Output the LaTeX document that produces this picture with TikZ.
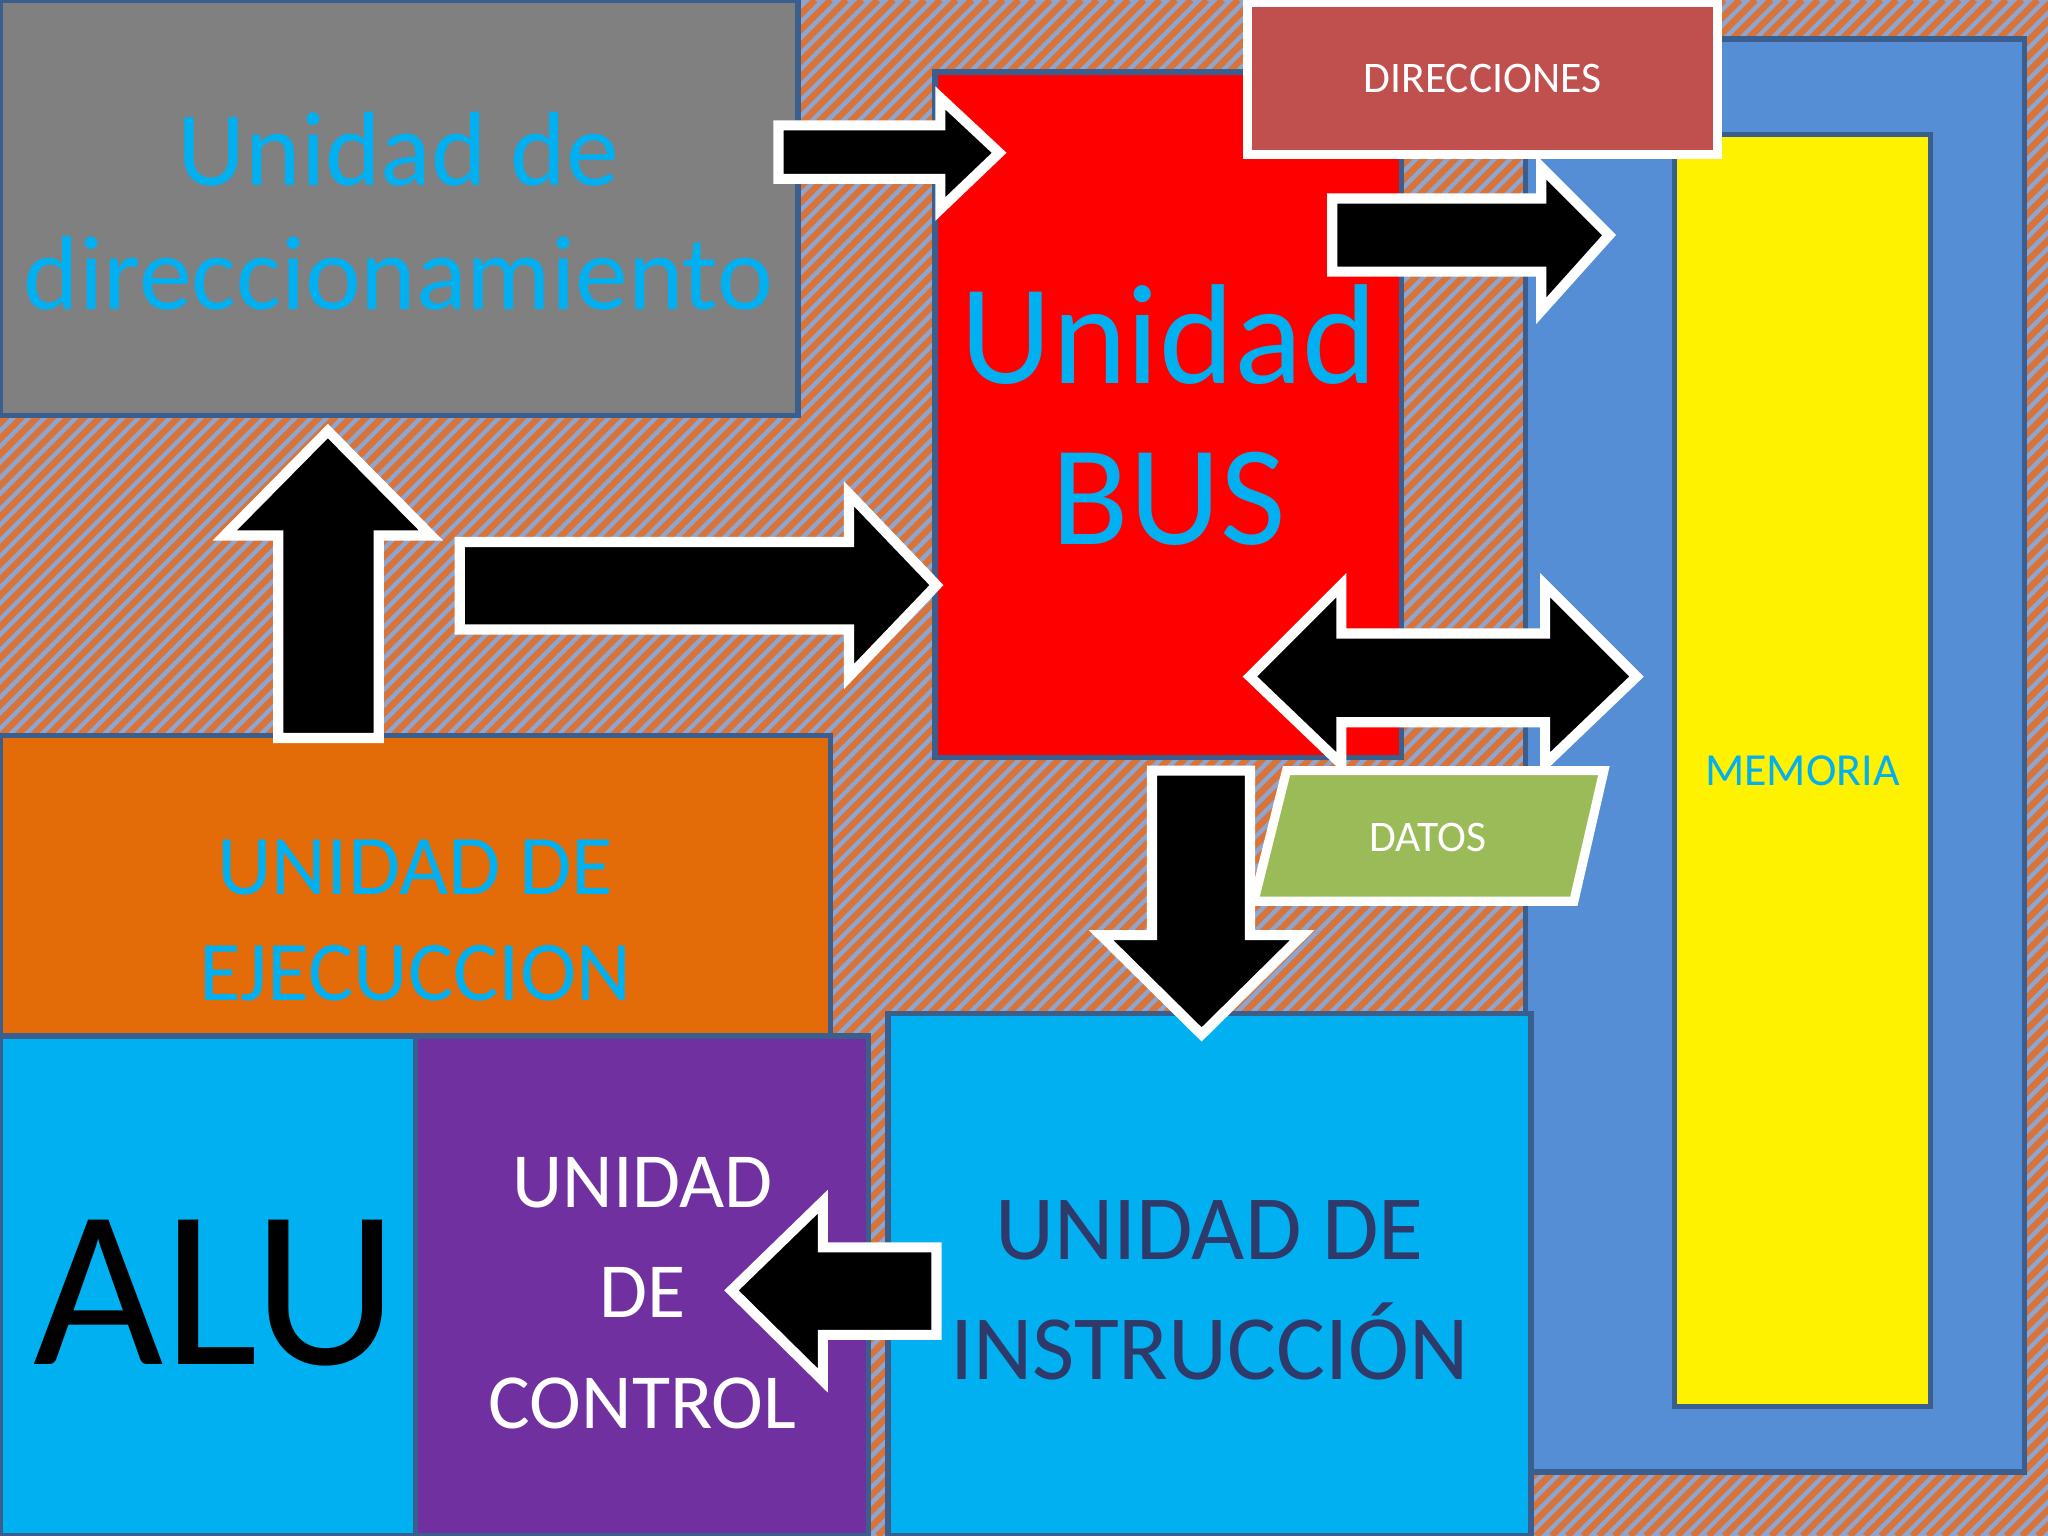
\documentclass[tikz,border=0pt]{standalone}
\usepackage{fontspec}
\setmainfont{Carlito}
\definecolor{bgblue}{HTML}{8EA6CF}
\definecolor{bgor}{HTML}{D8743A}
\definecolor{cyanT}{HTML}{00B0F0}
\definecolor{memblue}{HTML}{558ED5}
\definecolor{dirred}{HTML}{C0504D}
\definecolor{orangeU}{HTML}{E36C09}
\definecolor{purpleU}{HTML}{7030A0}
\definecolor{datosg}{HTML}{9BBB59}
\definecolor{edgeb}{HTML}{3A5F8F}
\definecolor{instT}{HTML}{303A6A}
\tikzset{
 box/.style={draw=edgeb,line width=1.2pt},
 wbox/.style={draw=white,line width=2pt},
 barrow/.style={fill=black,draw=white,line width=2.2pt,line join=miter},
}
\begin{document}
\begin{tikzpicture}[x=0.01cm,y=-0.01cm]
\useasboundingbox (0,0) rectangle (1568,1176);
\fill[bgblue] (0,0) rectangle (1568,1176);
\begin{scope}
\clip (0,0) rectangle (1568,1176);
\foreach \i in {-1200,-1188,...,1580} \draw[bgor,line width=1.4pt] (\i,1176) -- (\i+1176,0);
\end{scope}
% memory
\filldraw[box,fill=memblue] (1168,30) rectangle (1550,1127);
\filldraw[box,fill=yellow] (1282,103) rectangle (1478,1077);
\node[text=cyanT,font=\fontsize{10}{12}\selectfont] (mem) at (1380,590) {MEMORIA};
% gray
\filldraw[box,fill=gray] (0,0) rectangle (611,318);
\node[text=cyanT,align=center,font=\fontsize{23}{27}\selectfont] (dir) at (305,162) {Unidad de\\direccionamiento};
% red bus
\filldraw[box,fill=red] (716,55) rectangle (1073,580);
\node[text=cyanT,align=center,font=\fontsize{31}{35}\selectfont] (bus) at (895,318) {Unidad\\BUS};
% direcciones
\filldraw[wbox,fill=dirred] (955,2) rectangle (1315,118);
\node[text=white,font=\fontsize{9.5}{11}\selectfont] (dirs) at (1135,60) {DIRECCIONES};
% orange
\filldraw[box,fill=orangeU] (0,563) rectangle (636,793);
\node[text=cyanT,align=center,font=\fontsize{18.5}{23}\selectfont] (eje) at (318,705) {UNIDAD DE\\EJECUCCION};
% ALU
\filldraw[box,fill=cyanT] (0,793) rectangle (318,1176);
\node[text=black,font=\fontsize{49}{55}\selectfont] (alu) at (165,990) {ALU};
% control
\filldraw[box,fill=purpleU] (318,793) rectangle (665,1176);
\node[text=white,align=center,font=\fontsize{17}{24}\selectfont] (ctl) at (492,990) {UNIDAD\\DE\\CONTROL};
% instruccion
\filldraw[box,fill=cyanT] (680,776) rectangle (1172,1176);
\node[text=instT,align=center,font=\fontsize{20}{26}\selectfont] (ins) at (926,988) {UNIDAD DE\\INSTRUCCIÓN};
% arrows
\draw[barrow] (596,96) -- (720,96) -- (720,75) -- (765,117) -- (720,160) -- (720,137) -- (596,137) -- cycle;
\draw[barrow] (1020,152) -- (1180,152) -- (1180,128) -- (1232,180) -- (1180,238) -- (1180,208) -- (1020,208) -- cycle;
\draw[barrow] (352,415) -- (650,415) -- (650,378) -- (717,448) -- (650,518) -- (650,482) -- (352,482) -- cycle;
\draw[barrow] (213,565) -- (213,410) -- (172,410) -- (251,330) -- (330,410) -- (290,410) -- (290,565) -- cycle;
\draw[barrow] (957,518) -- (1027,448) -- (1027,485) -- (1183,485) -- (1183,448) -- (1253,518) -- (1183,585) -- (1183,553) -- (1027,553) -- (1027,585) -- cycle;
\draw[barrow] (882,590) -- (957,590) -- (957,716) -- (997,716) -- (920,792) -- (843,716) -- (882,716) -- cycle;
\draw[barrow] (717,955) -- (630,955) -- (630,920) -- (560,988) -- (630,1057) -- (630,1022) -- (717,1022) -- cycle;
% datos
\filldraw[wbox,fill=datosg] (985,590) -- (1228,590) -- (1205,690) -- (960,690) -- cycle;
\node[text=white,font=\fontsize{9.5}{11}\selectfont] (dat) at (1093,641) {DATOS};
\end{tikzpicture}
\end{document}
